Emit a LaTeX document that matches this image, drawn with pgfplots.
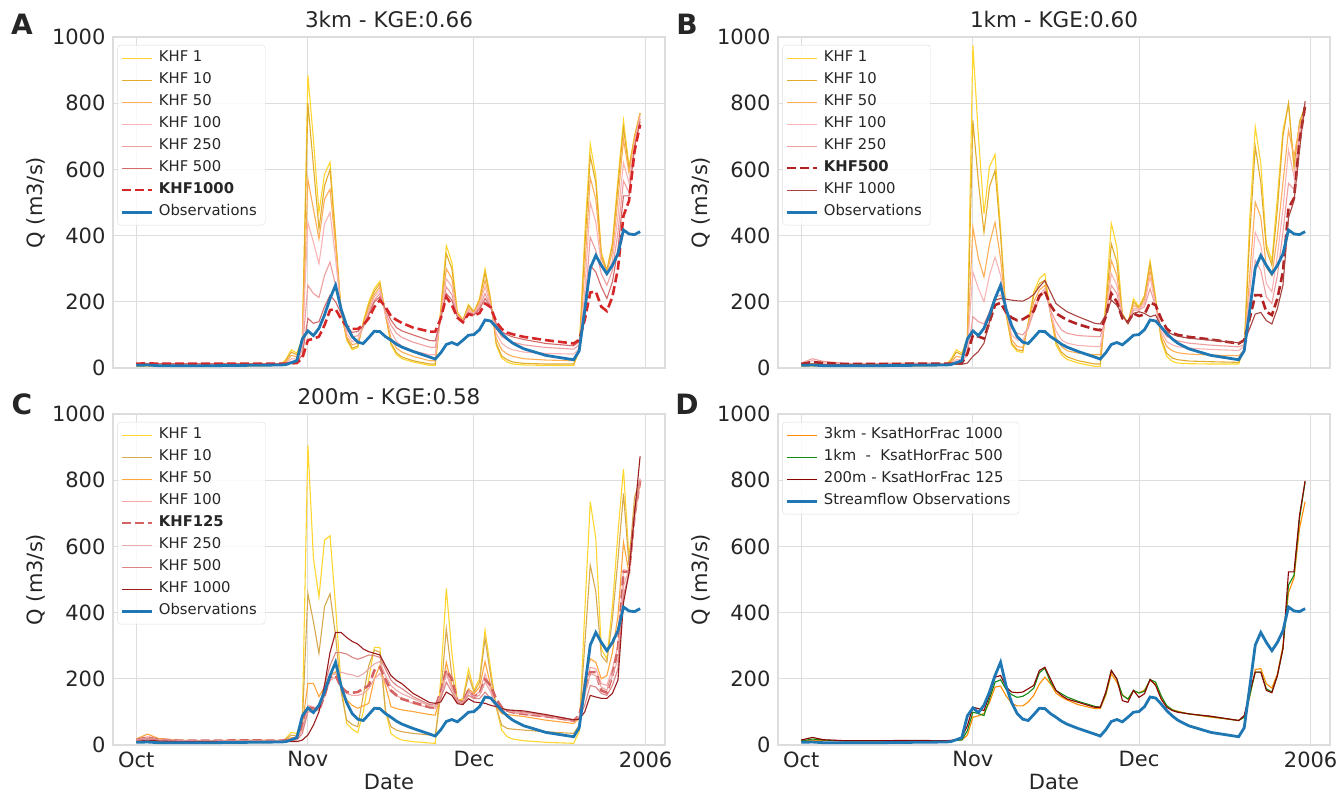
\documentclass[border=0pt]{standalone}
\usepackage{fontspec}
\setmainfont{DejaVu Sans}
\usepackage{pgfplots}
\usepackage{pgfplotstable}
\pgfplotsset{compat=1.18}

\definecolor{obs}{HTML}{1F77B4}
\definecolor{cA1}{HTML}{FFD52E}
\definecolor{cA10}{HTML}{E0AC2C}
\definecolor{cA50}{HTML}{FFAE55}
\definecolor{cA100}{HTML}{F8B4B4}
\definecolor{cA250}{HTML}{EE9E9E}
\definecolor{cA500}{HTML}{D26A6A}
\definecolor{cA1000}{HTML}{D62728}
\definecolor{cB500}{HTML}{B22222}
\definecolor{cB1000}{HTML}{A8423E}
\definecolor{cC10}{HTML}{D6A94E}
\definecolor{cC50}{HTML}{FFA53A}
\definecolor{cC100}{HTML}{F6A8A8}
\definecolor{cC125}{HTML}{D46464}
\definecolor{cC250}{HTML}{EBAAAA}
\definecolor{cC500}{HTML}{DC8585}
\definecolor{cC1000}{HTML}{9A1C1C}
\definecolor{cDor}{HTML}{FF8C00}
\definecolor{cDgr}{HTML}{138A13}
\definecolor{cDred}{HTML}{8B0000}
\definecolor{gridc}{HTML}{DDDDDD}
\definecolor{txt}{HTML}{262626}

\pgfplotstableread{
d obs
0 8
2 9
4 7
8 7
14 7
20 8
26 9
27 10
28 16
29 22
30 88
31 112
32 98
33 120
34 160
35 210
36 250
37 178
38 128
39 95
40 78
41 74
42 92
43 111
44 110
45 95
46 84
47 72
48 63
50 50
53 33
54 27
55 46
56 71
57 77
58 70
59 84
60 99
61 101
62 116
63 145
64 142
65 124
66 104
67 88
68 75
70 58
74 38
79 25
80 52
81 175
82 302
83 340
84 310
85 285
86 310
87 345
88 417
89 405
90 403
91 412
}\tO

\pgfplotstableread{
d k1 k10 k50 k100 k250 k500 k1000
0 5 6 8 10 12 13 13
2 6 7 9 11 13 14 14
4 5 6 8 10 12 13 13
8 5 6 8 10 12 13 13
14 5 6 8 10 12 13 13
20 6 7 9 11 12 13 13
26 8 8 10 11 12 13 13
27 25 22 18 15 14 13 13
28 55 48 38 28 20 16 14
29 45 40 34 27 21 17 15
30 90 85 75 65 55 40 30
31 885 800 570 440 250 150 84
32 690 610 480 380 225 135 88
33 470 420 390 315 213 140 95
34 585 550 510 435 280 185 129
35 622 600 540 470 320 220 175
36 400 390 370 330 250 200 178
37 170 170 170 170 175 165 148
38 85 90 95 105 115 125 126
39 55 60 70 80 95 108 118
40 62 66 75 85 97 110 118
41 140 135 130 125 122 128 130
42 200 192 182 172 165 160 150
43 240 232 222 215 205 200 184
44 262 255 245 235 225 215 205
45 165 162 162 165 170 178 185
46 70 76 90 110 130 145 157
47 40 46 60 80 105 122 145
48 28 33 48 66 92 112 136
50 18 22 35 52 78 100 122
53 8 12 22 40 63 83 110
54 8 12 22 40 62 82 110
55 180 170 160 155 150 148 150
56 370 345 300 270 245 225 215
57 320 300 270 245 222 205 190
58 170 165 160 158 156 155 152
59 145 145 143 142 141 140 138
60 192 188 180 175 170 166 163
61 170 170 166 164 162 160 158
62 210 205 198 192 185 178 166
63 300 288 265 245 225 210 195
64 210 205 198 190 186 184 184
65 70 76 90 105 120 135 140
66 30 36 55 75 95 110 118
67 18 25 42 62 85 100 107
68 12 18 35 55 78 94 102
70 9 14 28 48 70 86 94
74 8 12 24 44 62 74 84
79 7 12 22 42 57 67 74
80 55 52 50 58 70 80 85
81 400 360 300 230 180 150 145
82 677 640 575 500 395 310 228
83 580 560 510 440 355 290 231
84 350 340 330 315 285 245 185
85 295 295 290 280 250 210 172
86 380 370 350 325 295 260 215
87 570 550 510 460 410 360 300
88 748 725 690 620 565 520 460
89 610 600 590 560 530 520 505
90 700 700 690 680 670 665 655
91 770 770 768 760 752 745 735
}\tA

\pgfplotstableread{
d k1 k10 k50 k100 k250 k500 k1000
0 5 6 8 12 15 12 10
2 6 8 14 22 28 18 12
4 5 7 11 16 20 15 11
8 5 6 9 12 14 12 10
14 5 6 9 12 14 12 10
20 6 7 10 13 15 13 11
26 8 8 10 12 14 13 11
27 25 22 18 15 14 13 11
28 55 48 35 25 18 14 11
29 45 40 32 25 20 15 11
30 90 85 70 55 40 43 15
31 975 748 425 290 155 99 35
32 700 560 330 240 140 95 50
33 466 410 275 200 133 89 75
34 608 547 375 280 170 139 140
35 645 597 440 335 214 190 205
36 420 400 330 280 220 197 210
37 160 165 170 175 180 168 208
38 70 75 85 100 120 152 205
39 50 55 65 85 105 144 203
40 47 52 62 80 100 147 202
41 140 135 130 125 120 157 210
42 230 220 200 185 170 172 222
43 270 255 235 220 210 218 245
44 285 265 250 240 232 232 264
45 170 168 168 170 175 190 230
46 70 78 92 112 140 165 195
47 40 48 65 85 115 155 182
48 26 34 52 75 105 145 170
50 15 22 45 68 98 132 155
53 5 12 40 65 95 117 135
54 5 12 40 65 95 114 133
55 200 180 160 155 150 155 160
56 437 375 325 285 250 225 205
57 365 320 280 250 225 200 190
58 165 162 158 156 155 150 160
59 135 135 135 135 135 139 135
60 209 200 190 180 175 165 165
61 185 182 180 178 175 157 170
62 220 215 205 195 185 162 165
63 325 315 295 275 240 198 155
64 214 205 195 190 185 190 160
65 83 90 100 110 120 149 125
66 35 45 65 80 95 119 110
67 20 30 52 70 88 106 102
68 15 25 46 64 82 100 96
70 13 21 42 60 75 94 90
74 12 19 39 56 69 86 84
79 12 17 37 53 64 74 76
80 60 55 55 65 70 84 80
81 450 400 280 230 160 150 120
82 728 669 501 410 325 220 163
83 617 560 455 370 295 220 168
84 375 360 304 255 215 170 143
85 324 310 279 230 195 160 133
86 517 480 400 340 280 210 180
87 718 700 560 480 410 291 250
88 798 800 718 659 558 483 455
89 607 608 640 578 540 513 505
90 738 745 730 720 700 685 660
91 788 790 785 780 775 794 806
}\tB

\pgfplotstableread{
d k1 k10 k50 k100 k125 k250 k500 k1000
0 8 10 18 15 15 15 14 10
2 10 14 33 25 23 22 20 15
4 8 10 20 17 16 16 15 12
8 7 9 14 13 13 13 12 10
14 7 9 13 12 13 12 12 10
20 7 10 15 13 14 13 12 10
26 8 10 14 13 13 12 12 10
27 20 18 16 14 14 13 12 10
28 38 30 22 18 16 14 13 10
29 35 28 20 22 23 18 15 10
30 80 70 60 50 58 45 35 15
31 907 457 186 120 114 110 100 30
32 564 372 186 115 110 105 100 60
33 447 277 146 110 104 105 110 100
34 619 418 175 145 150 160 180 180
35 632 457 210 195 205 210 240 280
36 420 330 221 205 210 215 279 340
37 180 160 170 180 175 220 279 340
38 65 75 136 156 160 215 275 325
39 48 62 120 150 158 212 265 313
40 37 55 111 150 160 206 259 305
41 100 150 118 155 170 215 265 290
42 200 240 126 170 180 230 272 282
43 295 287 200 200 225 245 270 277
44 295 280 240 216 235 252 265 272
45 105 105 180 190 200 210 230 240
46 35 55 116 160 165 180 196 210
47 22 45 110 150 150 165 180 195
48 15 40 106 140 139 155 170 185
50 10 35 101 125 129 140 146 156
53 6 30 92 112 114 118 122 128
54 5 30 90 110 114 116 121 126
55 200 150 150 140 160 150 140 130
56 473 351 250 225 225 215 190 160
57 280 210 180 175 200 170 160 150
58 134 134 134 134 134 134 130 125
59 140 135 130 130 129 128 126 122
60 230 210 170 165 165 160 150 140
61 166 160 155 150 144 145 140 130
62 200 190 175 160 155 150 140 128
63 347 322 252 215 198 190 160 126
64 230 210 180 170 180 160 140 120
65 116 116 116 116 139 116 116 116
66 45 60 95 108 114 110 110 111
67 25 50 92 102 104 104 106 106
68 18 48 90 98 99 100 104 105
70 13 45 86 92 94 96 100 103
74 8 40 75 85 87 88 90 92
79 5 35 65 72 74 75 76 76
80 40 60 80 85 89 85 82 78
81 400 300 200 170 160 150 120 100
82 735 543 260 235 220 215 180 150
83 624 463 250 230 220 210 175 145
84 290 270 200 185 165 175 156 141
85 260 250 210 180 158 165 150 141
86 420 380 280 230 210 210 180 156
87 640 560 390 300 291 260 230 196
88 834 760 612 530 523 480 450 430
89 564 543 520 525 523 530 520 520
90 720 750 700 700 695 690 690 700
91 790 795 790 795 798 800 805 872
}\tC

\pgfplotsset{
  legend image code/.code={\draw[#1] (0pt,0pt) -- (30pt,0pt);},
  panel/.style={
    scale only axis, width=552pt, height=331pt,
    xmin=-4.2, xmax=95.5, ymin=0, ymax=1000,
    xtick={0,31,61,92}, ytick={0,200,400,600,800,1000},
    grid=major, major grid style={gridc, line width=1pt},
    axis line style={gridc, line width=1.2pt},
    major tick length=0pt, tick style={draw=none},
    tick label style={font=\fontsize{21}{25}\selectfont, text=txt},
    yticklabel style={xshift=-4pt},
    xticklabel style={yshift=-3pt},
    /pgf/number format/assume math mode=true,
    /pgf/number format/1000 sep={},
    ylabel={Q (m3/s)},
    label style={font=\fontsize{21}{25}\selectfont, text=txt},
    title style={font=\fontsize{21.5}{25}\selectfont, text=txt},
    legend cell align=left,
    legend style={at={(0.008,0.976)}, anchor=north west, draw=gridc, rounded corners=3pt,
      fill=white, fill opacity=0.85, text opacity=1, draw opacity=1,
      font=\fontsize{14.8}{17}\selectfont, text=txt,
      inner xsep=3pt, inner ysep=2pt,
      nodes={inner ysep=3.75pt, inner xsep=5.5pt, text height=11pt, text depth=3.5pt}},
  },
}

\begin{document}
\begin{tikzpicture}
\path[use as bounding box] (0,0) rectangle (1339pt,796pt);

% Panel A
\begin{axis}[panel, at={(113pt,428pt)}, anchor=south west, xticklabels={}, title={3km - KGE:0.66}]
\addplot[cA1, line width=1.1pt] table[x=d,y=k1] {\tA}; \addlegendentry{KHF 1}
\addplot[cA10, line width=1.1pt] table[x=d,y=k10] {\tA}; \addlegendentry{KHF 10}
\addplot[cA50, line width=1.1pt] table[x=d,y=k50] {\tA}; \addlegendentry{KHF 50}
\addplot[cA100, line width=1.1pt] table[x=d,y=k100] {\tA}; \addlegendentry{KHF 100}
\addplot[cA250, line width=1.1pt] table[x=d,y=k250] {\tA}; \addlegendentry{KHF 250}
\addplot[cA500, line width=1.1pt] table[x=d,y=k500] {\tA}; \addlegendentry{KHF 500}
\addplot[cA1000, line width=2.6pt, dash pattern=on 9pt off 4pt] table[x=d,y=k1000] {\tA}; \addlegendentry{\textbf{KHF1000}}
\addplot[obs, line width=2.8pt] table[x=d,y=obs] {\tO}; \addlegendentry{Observations}
\end{axis}

% Panel B
\begin{axis}[panel, at={(778pt,428pt)}, anchor=south west, xticklabels={}, title={1km - KGE:0.60}]
\addplot[cA1, line width=1.1pt] table[x=d,y=k1] {\tB}; \addlegendentry{KHF 1}
\addplot[cA10, line width=1.1pt] table[x=d,y=k10] {\tB}; \addlegendentry{KHF 10}
\addplot[cA50, line width=1.1pt] table[x=d,y=k50] {\tB}; \addlegendentry{KHF 50}
\addplot[cA100, line width=1.1pt] table[x=d,y=k100] {\tB}; \addlegendentry{KHF 100}
\addplot[cA250, line width=1.1pt] table[x=d,y=k250] {\tB}; \addlegendentry{KHF 250}
\addplot[cB500, line width=2.6pt, dash pattern=on 9pt off 4pt] table[x=d,y=k500] {\tB}; \addlegendentry{\textbf{KHF500}}
\addplot[cB1000, line width=1.1pt] table[x=d,y=k1000] {\tB}; \addlegendentry{KHF 1000}
\addplot[obs, line width=2.8pt] table[x=d,y=obs] {\tO}; \addlegendentry{Observations}
\end{axis}

% Panel C
\begin{axis}[panel, at={(113pt,51pt)}, anchor=south west, xticklabels={Oct,Nov,Dec,2006}, xlabel={Date}, title={200m - KGE:0.58}]
\addplot[cA1, line width=1.1pt] table[x=d,y=k1] {\tC}; \addlegendentry{KHF 1}
\addplot[cC10, line width=1.1pt] table[x=d,y=k10] {\tC}; \addlegendentry{KHF 10}
\addplot[cC50, line width=1.1pt] table[x=d,y=k50] {\tC}; \addlegendentry{KHF 50}
\addplot[cC100, line width=1.1pt] table[x=d,y=k100] {\tC}; \addlegendentry{KHF 100}
\addplot[cC125, line width=2.6pt, dash pattern=on 9pt off 4pt] table[x=d,y=k125] {\tC}; \addlegendentry{\textbf{KHF125}}
\addplot[cC250, line width=1.1pt] table[x=d,y=k250] {\tC}; \addlegendentry{KHF 250}
\addplot[cC500, line width=1.1pt] table[x=d,y=k500] {\tC}; \addlegendentry{KHF 500}
\addplot[cC1000, line width=1.1pt] table[x=d,y=k1000] {\tC}; \addlegendentry{KHF 1000}
\addplot[obs, line width=2.8pt] table[x=d,y=obs] {\tO}; \addlegendentry{Observations}
\end{axis}

% Panel D
\begin{axis}[panel, at={(778pt,51pt)}, anchor=south west, xticklabels={Oct,Nov,Dec,2006}, xlabel={Date}]
\addplot[cDor, line width=1.1pt] table[x=d,y=k1000] {\tA}; \addlegendentry{3km - KsatHorFrac 1000}
\addplot[cDgr, line width=1.1pt] table[x=d,y=k500] {\tB}; \addlegendentry{1km\ \ -\ \ KsatHorFrac 500}
\addplot[cDred, line width=1.1pt] table[x=d,y=k125] {\tC}; \addlegendentry{200m - KsatHorFrac 125}
\addplot[obs, line width=2.8pt] table[x=d,y=obs] {\tO}; \addlegendentry{Streamflow Observations}
\end{axis}

\node[font=\fontsize{28}{30}\selectfont\bfseries, text=txt] at (22pt,772pt) {A};
\node[font=\fontsize{28}{30}\selectfont\bfseries, text=txt] at (687pt,772pt) {B};
\node[font=\fontsize{28}{30}\selectfont\bfseries, text=txt] at (22pt,392pt) {C};
\node[font=\fontsize{28}{30}\selectfont\bfseries, text=txt] at (687pt,392pt) {D};
\end{tikzpicture}
\end{document}
